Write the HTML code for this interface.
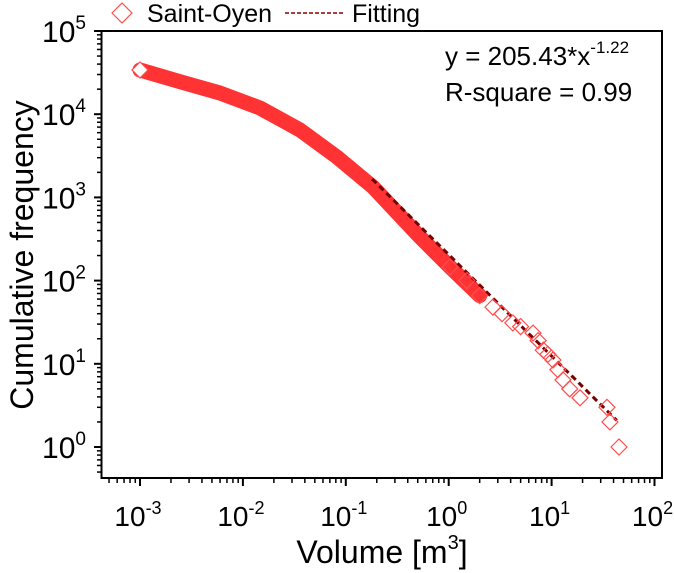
<!DOCTYPE html>
<html><head><meta charset="utf-8"><style>
body{margin:0;background:#fff;}
svg{display:block;font-family:"Liberation Sans",Arial,sans-serif;}
</style></head><body>
<svg id="chart" width="674" height="573" viewBox="0 0 674 573" xmlns="http://www.w3.org/2000/svg">
<g id="band"></g>
<g id="fit"></g>
<g id="pts"></g>
<rect x="101.5" y="31" width="560.5" height="447" fill="none" stroke="#000" stroke-width="2"/>
<g id="axes"></g>
<text x="382" y="563" font-size="32" text-anchor="middle">Volume [m<tspan font-size="20" dy="-14">3</tspan><tspan dy="14">]</tspan></text>
<text transform="translate(33,255) rotate(-90)" font-size="32" text-anchor="middle">Cumulative frequency</text>
<g>
<path d="M112 13 L122 3 L132 13 L122 23 Z" fill="#fff" stroke="#ff4d4d" stroke-width="1.2"/>
<text x="147" y="22" font-size="25">Saint-Oyen</text>
<line x1="285" y1="13" x2="345" y2="13" stroke="#8b0000" stroke-width="1.5" stroke-dasharray="4,2"/>
<text x="352" y="22" font-size="25">Fitting</text>
</g>
<text x="445" y="65" font-size="26">y = 205.43*x<tspan font-size="17" dy="-12">-1.22</tspan></text>
<text x="445" y="101" font-size="26">R-square = 0.99</text>
</svg>
<script>
const bandX=[0.001,0.00245,0.00598,0.01466,0.0359,0.082,0.184,0.526,1.03,2.0];
const bandY=[34000,24600,18000,11880,6460,3060,1334,334,146,66];
const tailX=[1.03,1.5,2.0,2.69,3.3,4.2,5.0,6.6,7.4,8.3,9.2,10.3,11.5,12.9,15,18.9,34.5,36.9,45.2];
const tailY=[146,100,66,48,40,31,28,23.4,19,14.6,13,11.1,8.5,6.4,5,3.9,3.0,2.0,1.0];
const fitA=205.43, fitB=-1.22, fitRange=[0.18,43];
const xTicks=[-3,-2,-1,0,1,2];
const yTicks=[0,1,2,3,4,5];
const NS="http://www.w3.org/2000/svg";
function X(v){return 140+(Math.log10(v)+3)*102.9;}
function Y(v){return 447-Math.log10(v)*83.2;}
function mk(t,a,p){const e=document.createElementNS(NS,t);for(const k in a)e.setAttribute(k,a[k]);p.appendChild(e);return e;}
const band=document.getElementById('band');
let d=bandX.map((x,i)=>(i?'L':'M')+X(x).toFixed(1)+' '+Y(bandY[i]).toFixed(1)).join(' ');
const bp=mk('path',{d:d,fill:'none',stroke:'#ff3333','stroke-width':15,'stroke-linejoin':'round','stroke-linecap':'round'},band);


const pts=document.getElementById('pts');
function diamond(x,y,fill){const cx=X(x),cy=Y(y);return mk('path',{d:`M${cx-8} ${cy} L${cx} ${cy-8} L${cx+8} ${cy} L${cx} ${cy+8} Z`,fill:fill,stroke:'#ff4d4d','stroke-width':1.2},pts);}
tailX.forEach((x,i)=>{const e=diamond(x,tailY[i],'none');

});
const first=diamond(bandX[0],bandY[0],'#fff');


const fit=document.getElementById('fit');
let fd='';for(let i=0;i<=40;i++){const lx=Math.log10(fitRange[0])+(Math.log10(fitRange[1])-Math.log10(fitRange[0]))*i/40;const x=Math.pow(10,lx);fd+=(i?'L':'M')+X(x).toFixed(1)+' '+Y(fitA*Math.pow(x,fitB)).toFixed(1);}
const fl=mk('path',{d:fd,fill:'none',stroke:'#7a0000','stroke-width':3,'stroke-dasharray':'6,4'},fit);


const ax=document.getElementById('axes');
xTicks.forEach(e=>{const px=X(Math.pow(10,e));
mk('line',{x1:px,y1:478,x2:px,y2:486,stroke:'#000','stroke-width':2},ax);
if(e<2)for(let m=2;m<10;m++){const q=X(m*Math.pow(10,e));mk('line',{x1:q,y1:478,x2:q,y2:483,stroke:'#000','stroke-width':1.5},ax);}
const t=mk('text',{x:px-2,y:526,'font-size':28,'text-anchor':'middle'},ax);


t.innerHTML='10<tspan font-size="18" dy="-12">'+e+'</tspan>';});
for(let m=3;m<10;m++){const q=X(m*1e-4);if(q>102)mk('line',{x1:q,y1:478,x2:q,y2:483,stroke:'#000','stroke-width':1.5},ax);}
yTicks.forEach(e=>{const py=Y(Math.pow(10,e));
mk('line',{x1:94,y1:py,x2:101,y2:py,stroke:'#000','stroke-width':2},ax);
if(e<5)for(let m=2;m<10;m++){const q=Y(m*Math.pow(10,e));mk('line',{x1:97,y1:q,x2:101,y2:q,stroke:'#000','stroke-width':1.5},ax);}
const t=mk('text',{x:86,y:py+11,'font-size':30,'text-anchor':'end'},ax);


t.innerHTML='10<tspan font-size="19" dy="-13">'+e+'</tspan>';});
for(let m=4;m<10;m++){const q=Y(m*0.1);if(q<477)mk('line',{x1:97,y1:q,x2:101,y2:q,stroke:'#000','stroke-width':1.5},ax);}
</script>
</body></html>
